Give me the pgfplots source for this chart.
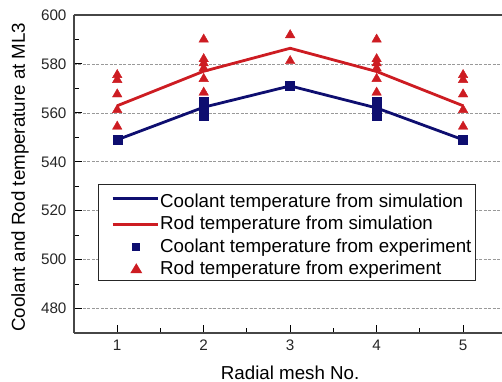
\documentclass[border=0pt]{standalone}
\usepackage{fontspec}
\setmainfont{Liberation Sans}
\usepackage{pgfplots}
\pgfplotsset{compat=1.18}
\definecolor{cnavy}{RGB}{14,14,112}
\definecolor{cred}{RGB}{205,28,34}
\definecolor{axgray}{RGB}{70,70,70}
\begin{document}
\begin{tikzpicture}
\begin{axis}[
  scale only axis,
  width=428bp, height=318bp,
  at={(0,0)}, anchor=south west,
  xmin=0.5, xmax=5.45,
  ymin=470, ymax=600,
  axis x line*=bottom, axis y line*=left,
  axis line style={axgray, line width=1.2bp},
  xtick={1,2,3,4,5}, minor x tick num=1,
  ytick={480,500,...,600}, minor y tick num=1,
  tick align=inside,
  major tick length=8bp, minor tick length=5bp,
  tick style={black, line width=1bp},
  ymajorgrids,
  major grid style={gray!80, dash pattern=on 3bp off 1.5bp, line width=0.6bp},
  /pgf/number format/assume math mode=true,
  tick label style={font=\fontsize{15.3}{17}\selectfont, text=black!85},
  xticklabel style={yshift=-3bp},
  yticklabel style={xshift=-4bp},
  xlabel={Radial mesh No.},
  ylabel={Coolant and Rod temperature at ML3},
  label style={font=\fontsize{18.8}{22}\selectfont},
  xlabel style={at={(axis cs:3,470)}, anchor=base, yshift=-46bp},
  ylabel style={at={(rel axis cs:-0.1145,0.49)}, anchor=base},
  legend style={at={(rel axis cs:0.056,0.469)}, anchor=north west,
    draw=black!85, line width=1.2bp, font=\fontsize{18.8}{22}\selectfont,
    nodes={text height=15.5bp, text depth=4.5bp, inner sep=1.25bp},
    inner xsep=3bp, inner ysep=0bp, row sep=0bp},
  legend cell align=left,
  after end axis/.code={\draw[axgray, line width=1.2bp] (rel axis cs:0,1) -- (rel axis cs:1.02,1);},
]
\addplot[cnavy, line width=2.8bp, no marks,
  legend image code/.code={\path[draw=none] (0bp,0bp) -- (11bp,0bp);\draw[cnavy, line width=2.8bp] (11bp,0bp) -- (56bp,0bp);}]
  coordinates {(1,549) (2,562.3) (3,571) (4,562) (5,549)};
\addlegendentry[text height=21.5bp]{Coolant temperature from simulation}
\addplot[cred, line width=2.8bp, no marks,
  legend image code/.code={\path[draw=none] (0bp,0bp) -- (11bp,0bp);\draw[cred, line width=2.8bp] (11bp,0bp) -- (56bp,0bp);}]
  coordinates {(1,562.9) (2,577) (3,586.4) (4,576.9) (5,562.9)};
\addlegendentry{Rod temperature from simulation}
\addplot[only marks, cnavy, mark=square*, mark size=4.5bp,
  legend image code/.code={\path[draw=none] (0bp,0bp) -- (51bp,0bp);
    \path[fill=cnavy, draw=none] (30.75bp,-4bp) rectangle (38.75bp,4bp);}]
  coordinates {(1,549) (2,564.5) (2,562) (2,559) (3,571) (4,564.5) (4,562) (4,559) (5,549)};
\addlegendentry{Coolant temperature from experiment}
\addplot[only marks, cred, mark=triangle*, mark size=5.5bp,
  legend image code/.code={\path[draw=none] (0bp,0bp) -- (51bp,0bp);
    \path[fill=cred, draw=none] (28.75bp,-4bp) -- (40.75bp,-4bp) -- (34.75bp,6bp) -- cycle;}]
  coordinates {(1,575.5) (1,573.5) (1,567.6) (1,561.2) (1,554.4)
               (2,590) (2,582) (2,580.3) (2,578.2) (2,573.9) (2,568.3)
               (3,591.8) (3,581.2)
               (4,590) (4,582) (4,580.3) (4,578.2) (4,573.9) (4,568.3)
               (5,575.5) (5,573.5) (5,567.6) (5,561.2) (5,554.4)};
\addlegendentry{Rod temperature from experiment}
\end{axis}
\pgfresetboundingbox
\path (-74bp,-49bp) rectangle (428bp,333bp);
\end{tikzpicture}
\end{document}
